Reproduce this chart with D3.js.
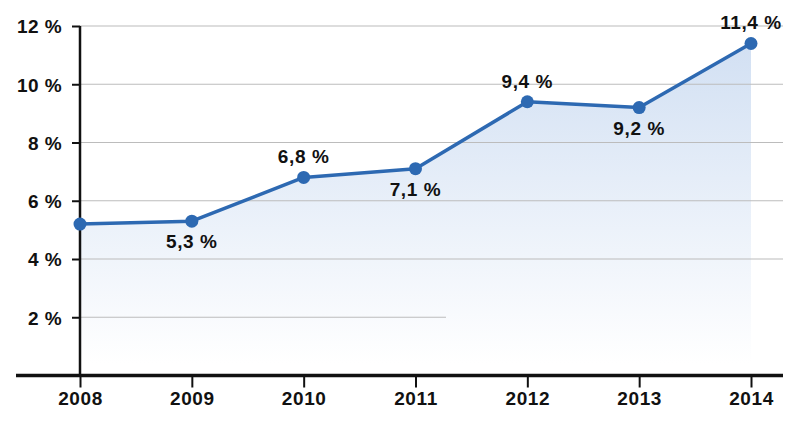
<!DOCTYPE html>
<html><head><meta charset="utf-8">
<script src="https://cdn.jsdelivr.net/npm/d3@7"></script>
<style>
html,body{margin:0;padding:0;background:#fff;}
svg{display:block;}
text{font-family:"Liberation Sans",Arial,Helvetica,sans-serif;font-weight:bold;fill:#111;}
</style></head>
<body>
<svg id="chart" width="800" height="424"></svg>
<script>
const years = ["2008","2009","2010","2011","2012","2013","2014"];
const values = [5.2, 5.3, 6.8, 7.1, 9.4, 9.2, 11.4];
const labels = ["", "5,3 %", "6,8 %", "7,1 %", "9,4 %", "9,2 %", "11,4 %"];
const labelPos = ["", "below", "above", "below", "above", "below", "above"];
const yTicks = [2, 4, 6, 8, 10, 12];
const yTickLabels = ["2 %", "4 %", "6 %", "8 %", "10 %", "12 %"];

const svg = d3.select("#chart");
const x = d3.scalePoint().domain(years).range([80, 751]);
const y = d3.scaleLinear().domain([0, 12]).range([375.5, 26]);

const defs = svg.append("defs");
const grad = defs.append("linearGradient").attr("id","areaGrad")
  .attr("gradientUnits","userSpaceOnUse")
  .attr("x1",0).attr("y1",y(11.4)).attr("x2",0).attr("y2",y(0.4));
grad.append("stop").attr("offset","0%").attr("stop-color","#d2e0f3");
grad.append("stop").attr("offset","100%").attr("stop-color","#ffffff");

// area
const area = d3.area().x((d,i) => x(years[i])).y0(y(0)).y1(d => y(d));
svg.append("path").datum(values).attr("d", area).attr("fill","url(#areaGrad)");

// gridlines
svg.append("g").selectAll("line").data(yTicks).join("line")
  .attr("x1", 80).attr("x2", d => d === 2 ? 446 : 783)
  .attr("y1", d => y(d)).attr("y2", d => y(d))
  .attr("stroke", "#bcbcbc").attr("stroke-width", 1.2);

// y axis
const yAxis = d3.axisLeft(y).tickValues(yTicks).tickSize(8).tickPadding(10)
  .tickFormat((d,i) => yTickLabels[i]);
const gy = svg.append("g").attr("transform","translate(80,0)").call(yAxis);
gy.select(".domain").remove();
gy.selectAll(".tick line").attr("stroke","#111").attr("stroke-width",2);
gy.selectAll(".tick text").attr("font-size","19px").attr("letter-spacing","0.4px")
  .attr("font-family",null).attr("fill","#111").attr("dy","0.36em");
svg.append("line").attr("x1",80).attr("x2",80).attr("y1",y(12)).attr("y2",y(0))
  .attr("stroke","#111").attr("stroke-width",2.5);

// x axis
const xAxis = d3.axisBottom(x).tickSize(12).tickPadding(4);
const gx = svg.append("g").attr("transform",`translate(0,${y(0)})`).call(xAxis);
gx.select(".domain").remove();
gx.selectAll(".tick line").attr("stroke","#111").attr("stroke-width",2);
gx.selectAll(".tick text").attr("font-size","19px").attr("letter-spacing","0.6px")
  .attr("font-family",null).attr("fill","#111");
svg.append("line").attr("x1",16).attr("x2",783).attr("y1",y(0)).attr("y2",y(0))
  .attr("stroke","#111").attr("stroke-width",3.5);

// line
const line = d3.line().x((d,i) => x(years[i])).y(d => y(d));
svg.append("path").datum(values).attr("d", line).attr("fill","none")
  .attr("stroke","#2d69b2").attr("stroke-width",3.5).attr("stroke-linejoin","round");

svg.append("g").selectAll("circle").data(values).join("circle")
  .attr("cx",(d,i) => x(years[i])).attr("cy", d => y(d)).attr("r",6.5)
  .attr("fill","#2d69b2");

// labels
svg.append("g").selectAll("text").data(values).join("text")
  .attr("x",(d,i) => x(years[i]))
  .attr("y",(d,i) => labelPos[i] === "above" ? y(d) - 14 : y(d) + 27)
  .attr("text-anchor","middle").attr("font-size","19px").attr("letter-spacing","0.6px")
  .text((d,i) => labels[i]);
</script>
</body></html>
